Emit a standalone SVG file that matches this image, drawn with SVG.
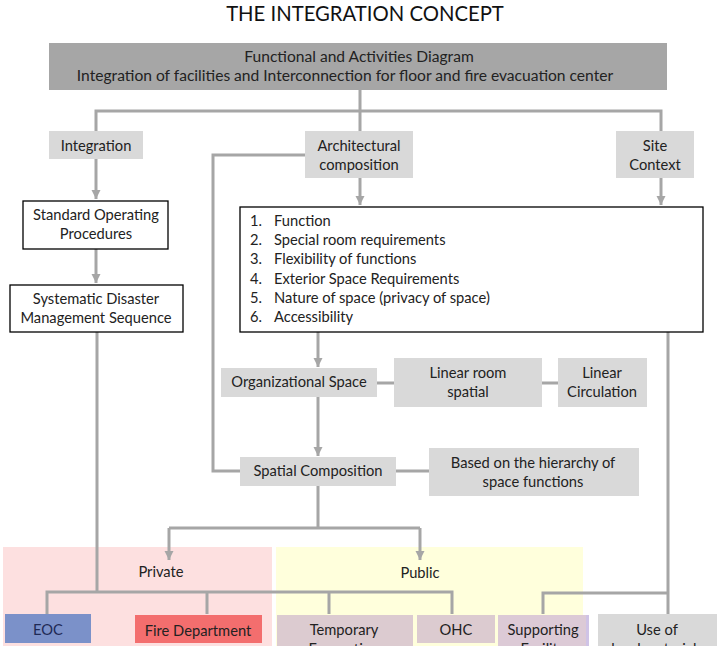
<svg xmlns="http://www.w3.org/2000/svg" width="720" height="646" viewBox="0 0 720 646">
<style>
text{font-family:Lato,"Liberation Sans",sans-serif;font-size:14.7px;fill:#222;}
.c{text-anchor:middle;}
.h{font-size:15.6px;}
.g{fill:#d9d9d9;}
.w{fill:#fff;stroke:#000;stroke-width:1.3;}
.ln{fill:none;stroke:#a6a6a6;stroke-width:3;}
.ar{marker-end:url(#ah);}
</style>
<defs>
<marker id="ah" markerUnits="userSpaceOnUse" markerWidth="10" markerHeight="10" refX="9" refY="5" orient="auto">
<path d="M0,0.5 L9,5 L0,9.5 z" fill="#a6a6a6"/>
</marker>
</defs>
<rect width="720" height="646" fill="#fff"/>
<text x="365" y="21" class="c" style="font-size:20.3px;fill:#111">THE INTEGRATION CONCEPT</text>

<g id="zone-private"><rect x="3" y="547" width="269" height="99" fill="#fde0e0"/><text x="161" y="577" class="c">Private</text></g>
<g id="zone-public"><rect x="276" y="547" width="307" height="99" fill="#ffffdc"/><text x="420" y="578" class="c">Public</text></g>

<g id="connectors">
<path class="ln" d="M360,90 V131 M96,131 V111 H661 V131"/>
<path class="ln ar" d="M96,159 V199"/>
<path class="ln ar" d="M96,249 V283"/>
<path class="ln ar" d="M360,178 V205"/>
<path class="ln ar" d="M661,178 V205"/>
<path class="ln" d="M305,155 H213 V471 H240"/>
<path class="ln ar" d="M318,332 V367"/>
<path class="ln" d="M377,383 H394 M542,383 H558"/>
<path class="ln ar" d="M318,397 V456"/>
<path class="ln" d="M396,471 H429"/>
<path class="ln" d="M318,486 V528 M169,528 H420"/>
<path class="ln ar" d="M169,528 V560"/>
<path class="ln ar" d="M420,528 V560"/>
<path class="ln" d="M97,332 V592 M47,614 V592 H452 V614 M207,592 V614 M329,592 V614"/>
<path class="ln" d="M668,332 V614 M668,593 H543 V614"/>
</g>

<g id="header"><rect x="49" y="43" width="618" height="47" fill="#a6a6a6"/>
<text x="359" y="62" class="c h">Functional  and Activities Diagram</text>
<text x="345" y="81" class="c h">Integration of facilities and Interconnection  for floor and fire evacuation center</text></g>

<g id="integration"><rect class="g" x="49" y="131" width="94" height="28"/><text x="96" y="151" class="c">Integration</text></g>
<g id="sop"><rect class="w" x="23" y="201" width="145" height="48"/><text x="96" y="220" class="c">Standard  Operating</text><text x="96" y="239" class="c">Procedures</text></g>
<g id="sdms"><rect class="w" x="10" y="285" width="173" height="47"/><text x="96" y="304" class="c">Systematic Disaster</text><text x="96" y="323" class="c">Management  Sequence</text></g>

<g id="arch"><rect class="g" x="305" y="131" width="108" height="47"/><text x="359" y="151" class="c">Architectural</text><text x="359" y="170" class="c">composition</text></g>
<g id="site"><rect class="g" x="616" y="131" width="78" height="47"/><text x="655" y="151" class="c">Site</text><text x="655" y="170" class="c">Context</text></g>

<g id="list"><rect class="w" x="240" y="207" width="463" height="125"/>
<text x="250" y="226">1.</text><text x="274" y="226">Function</text>
<text x="250" y="245">2.</text><text x="274" y="245">Special room  requirements</text>
<text x="250" y="264">3.</text><text x="274" y="264">Flexibility of functions</text>
<text x="250" y="284">4.</text><text x="274" y="284">Exterior Space Requirements</text>
<text x="250" y="303">5.</text><text x="274" y="303">Nature of space (privacy of space)</text>
<text x="250" y="322">6.</text><text x="274" y="322">Accessibility</text></g>

<g id="org"><rect class="g" x="221" y="368" width="156" height="29"/><text x="299" y="387" class="c">Organizational Space</text></g>
<g id="linroom"><rect class="g" x="394" y="358" width="148" height="49"/><text x="468" y="378" class="c">Linear room</text><text x="468" y="397" class="c">spatial</text></g>
<g id="lincirc"><rect class="g" x="558" y="358" width="89" height="49"/><text x="602" y="378" class="c">Linear</text><text x="602" y="397" class="c">Circulation</text></g>
<g id="spatial"><rect class="g" x="240" y="457" width="156" height="29"/><text x="318" y="476" class="c">Spatial Composition</text></g>
<g id="hier"><rect class="g" x="429" y="448" width="210" height="48"/><text x="533" y="468" class="c">Based on the hierarchy of</text><text x="533" y="487" class="c">space functions</text></g>

<g id="eoc"><rect x="5" y="614" width="86" height="29" fill="#7b91c9"/><text x="48" y="635" class="c" style="fill:#1f2a55">EOC</text></g>
<g id="fire"><rect x="135" y="615" width="127" height="28" fill="#f36e6e"/><text x="198" y="636" class="c">Fire Department</text></g>
<g id="temp"><rect x="277" y="615" width="136" height="40" fill="#dccbd0"/><text x="344" y="635" class="c">Temporary</text><text x="344" y="654" class="c">Evacuation</text></g>
<g id="ohc"><rect x="417" y="615" width="78" height="28" fill="#dccbd0"/><text x="456" y="635" class="c">OHC</text></g>
<g id="support"><rect x="498" y="615" width="91" height="40" fill="#dccad6"/><rect x="586" y="615" width="3" height="40" fill="#cfc3e6"/><text x="543" y="635" class="c">Supporting</text><text x="543" y="654" class="c">Facility</text></g>
<g id="useof"><rect class="g" x="598" y="614" width="119" height="40"/><text x="657" y="635" class="c">Use of</text><text x="657" y="654" class="c">local materials</text></g>
</svg>
